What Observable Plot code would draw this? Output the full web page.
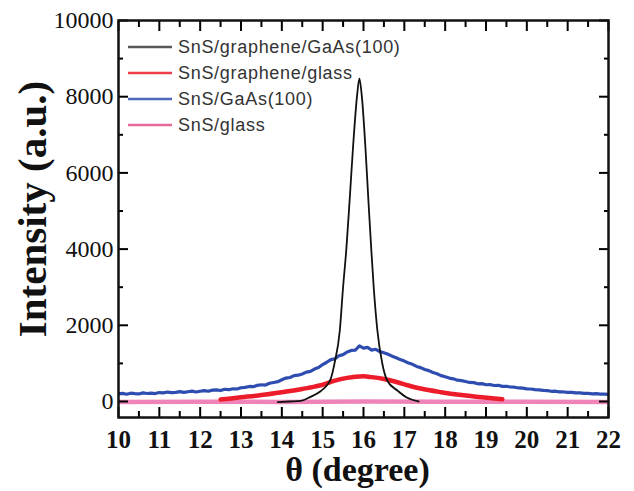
<!DOCTYPE html>
<html>
<head>
<meta charset="utf-8">
<script src="https://cdn.jsdelivr.net/npm/d3@7"></script>
<script src="https://cdn.jsdelivr.net/npm/@observablehq/plot@0.6"></script>
<style>
  html, body { margin: 0; padding: 0; background: #fff; }
  #wrap { position: relative; width: 634px; height: 491px; }
  #legend { position: absolute; left: 0; top: 0; pointer-events: none; }
</style>
</head>
<body>
<div id="wrap"></div>
<script>
// ---- data ----
const seriesNames = ["SnS/graphene/GaAs(100)", "SnS/graphene/glass", "SnS/GaAs(100)", "SnS/glass"];
const seriesColors = ["#111111", "#ec1c2a", "#2f4db0", "#e0508a"];

const xTickLabels = [10, 11, 12, 13, 14, 15, 16, 17, 18, 19, 20, 21, 22];
const yTickLabels = [0, 2000, 4000, 6000, 8000, 10000];
const xTitle = "θ (degree)";
const yTitle = "Intensity (a.u.)";

// SnS/graphene/GaAs(100) – sharp peak
const blackTheta = [13.9, 14.2, 14.46, 14.7, 14.95, 15.1, 15.2, 15.29, 15.42, 15.5, 15.58, 15.66, 15.74, 15.84, 15.9, 15.96, 16.05, 16.12, 16.19, 16.25, 16.34, 16.46, 16.58, 16.83, 17.05, 17.35];
const blackI     = [-15, 0, 15, 120, 270, 420, 600, 1000, 1864, 3000, 4000, 5276, 6614, 8000, 8480, 8000, 6614, 5276, 4000, 3000, 1864, 997, 551, 289, 110, 0];

// SnS/graphene/glass – broad peak
const redTheta = [12.5, 13.0, 13.5, 14.0, 14.5, 14.8, 15.0, 15.3, 15.6, 15.8, 16.0, 16.2, 16.5, 16.83, 17.1, 17.4, 17.9, 18.4, 18.9, 19.4];
const redI     = [50, 110, 170, 245, 330, 390, 440, 550, 620, 650, 660, 640, 590, 505, 420, 340, 245, 170, 110, 60];

// SnS/GaAs(100) – noisy broad peak, read every 0.1 degree from 10 to 22
const blueStart = 10, blueStep = 0.1;
const blueI = [
  200, 212, 190, 218, 205, 198, 226, 210, 222, 208, 235,
  226, 248, 232, 240, 260, 238, 255, 272, 250, 268,
  285, 270, 298, 305, 288, 322, 310, 335, 328, 360,
  372, 395, 388, 425, 440, 432, 478, 500, 520, 570,
  615, 630, 680, 690, 720, 770, 790, 850, 890, 970,
  1030, 1100, 1120, 1200, 1230, 1300, 1340, 1350, 1460, 1400,
  1420, 1350, 1370, 1310, 1280, 1240, 1190, 1150, 1100, 1060,
  1010, 975, 920, 890, 840, 810, 760, 730, 680, 650,
  615, 595, 560, 548, 525, 500, 495, 465, 470, 440,
  442, 420, 425, 398, 400, 380, 375, 355, 350, 330,
  328, 310, 305, 290, 285, 268, 270, 252, 250, 238,
  240, 225, 228, 212, 215, 202, 205, 192, 195, 184
];

// SnS/glass – flat line near zero
const pinkTheta = [10, 12, 14, 16, 18, 20, 22];
const pinkI     = [-10, -5, -10, 0, -8, -5, -10];

// ---- build tables ----
const black = blackTheta.map((t, i) => ({t, v: blackI[i]}));
const red = redTheta.map((t, i) => ({t, v: redI[i]}));
const blue = blueI.map((v, i) => ({t: blueStart + i * blueStep, v}));
const pink = pinkTheta.map((t, i) => ({t, v: pinkI[i]}));

const xMinor = xTickLabels.slice(0, -1).map(d => d + 0.5);
const yMinor = yTickLabels.slice(0, -1).map(d => d + 1000);

const serif = "'Liberation Serif', 'Times New Roman', serif";
const sans = "'Liberation Sans', Arial, sans-serif";

const chart = Plot.plot({
  width: 634,
  height: 491,
  marginLeft: 118,
  marginRight: 26,
  marginTop: 20,
  marginBottom: 74,
  style: {background: "#fff", overflow: "visible"},
  x: {domain: [10, 22]},
  y: {domain: [-420, 10000]},
  marks: [
    Plot.line(blue, {x: "t", y: "v", stroke: seriesColors[2], strokeWidth: 3.2, clip: true}),
    Plot.line(pink, {x: "t", y: "v", stroke: "#ee84b8", strokeWidth: 4.5, clip: true}),
    Plot.line(red, {x: "t", y: "v", stroke: seriesColors[1], strokeWidth: 4.5, curve: "monotone-x", clip: true}),
    Plot.line(black, {x: "t", y: "v", stroke: seriesColors[0], strokeWidth: 1.8, curve: "monotone-x", clip: true}),

    // inward ticks on all four sides
    Plot.axisX(xTickLabels, {anchor: "bottom", tickSize: -10, fill: "none", strokeWidth: 2}),
    Plot.axisX(xMinor, {anchor: "bottom", tickSize: -6, fill: "none", strokeWidth: 2}),
    Plot.axisX(xTickLabels, {anchor: "top", tickSize: -10, fill: "none", strokeWidth: 2}),
    Plot.axisX(xMinor, {anchor: "top", tickSize: -6, fill: "none", strokeWidth: 2}),
    Plot.axisY(yTickLabels, {anchor: "left", tickSize: -10, fill: "none", strokeWidth: 2}),
    Plot.axisY(yMinor, {anchor: "left", tickSize: -5, fill: "none", strokeWidth: 2}),
    Plot.axisY(yTickLabels, {anchor: "right", tickSize: -10, fill: "none", strokeWidth: 2}),
    Plot.axisY(yMinor, {anchor: "right", tickSize: -5, fill: "none", strokeWidth: 2}),

    // tick labels
    Plot.axisX(xTickLabels, {anchor: "bottom", tickSize: 0, tickPadding: 13, label: null,
      tickFormat: d3.format("d"),
      fontSize: 25, fontWeight: "bold", fontFamily: serif, fill: "#111"}),
    Plot.axisY(yTickLabels, {anchor: "left", tickSize: 0, tickPadding: 5, label: null,
      tickFormat: d3.format("d"),
      fontSize: 24, fontFamily: serif, fill: "#111"}),

    // axis titles
    Plot.text([xTitle], {frameAnchor: "bottom", text: d => d, dy: 53, dx: -6, lineAnchor: "middle",
      fontSize: 34, fontWeight: "bold", fontFamily: serif, fill: "#111"}),
    Plot.text([yTitle], {frameAnchor: "left", text: d => d, dx: -86, dy: -10, rotate: -90,
      textAnchor: "middle", lineAnchor: "middle",
      fontSize: 41, fontWeight: "bold", fontFamily: serif, fill: "#111"}),

    Plot.frame({stroke: "#111", strokeWidth: 2.5})
  ]
});

const wrap = document.getElementById("wrap");
wrap.appendChild(chart);

// legend inside the plot frame (upper-left)
const leg = d3.select(wrap).append("svg")
  .attr("id", "legend").attr("width", 634).attr("height", 491);
const rows = leg.selectAll("g").data(seriesNames).join("g")
  .attr("transform", (d, i) => `translate(0, ${47 + i * 26})`);
rows.append("line")
  .attr("x1", 128).attr("x2", 172).attr("y1", 0).attr("y2", 0)
  .attr("stroke", (d, i) => seriesColors[i]).attr("stroke-width", 2.5).attr("stroke-opacity", (d, i) => i === 0 ? 0.7 : 0.85);
rows.append("text")
  .attr("x", 178).attr("y", 0).attr("dy", "0.35em")
  .attr("font-family", sans).attr("font-size", 18).attr("letter-spacing", "0.7px")
  .attr("fill", "#333")
  .text(d => d);
</script>
</body>
</html>
